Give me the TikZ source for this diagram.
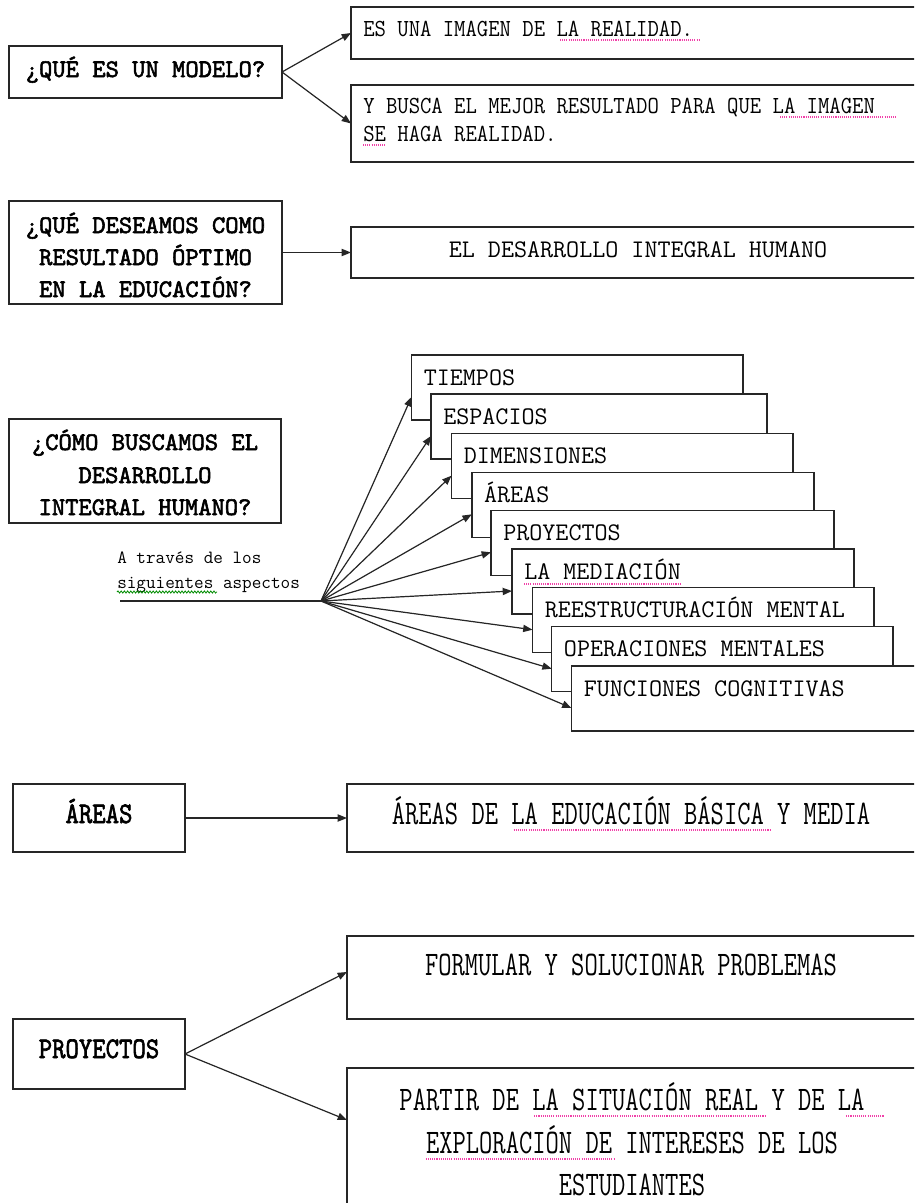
\documentclass[tikz,border=0pt]{standalone}
\usepackage{fontspec}
\usepackage{graphicx}
\usetikzlibrary{arrows.meta,calc,decorations.pathmorphing}
\newfontfamily\bmono{lmmono10-regular.otf}[FakeBold=2.2]
\newcommand\hs[2]{\scalebox{#1}[1]{#2}}
\newcommand\mybox[5]{\node[box,anchor=north west,minimum width={(#4-#2)*0.75pt},minimum height={(#5-#3)*0.75pt}] (#1) at (#2,#3) {};}
\tikzset{
  box/.style={draw=black!85, line width=1.1pt, fill=white, inner sep=0pt, outer sep=0pt},
  arr/.style={-{Triangle[length=7pt,width=5.4pt]}, line width=0.9pt, draw=black!85, fill=black!85},
  plain/.style={line width=0.9pt, draw=black!85},
  bt/.style={inner sep=0pt, anchor=base, font=\bmono\fontsize{19}{23}\selectfont},
  rt/.style={inner sep=0pt, anchor=base west, font=\ttfamily\fontsize{18.4}{22}\selectfont},
  mt/.style={inner sep=0pt, anchor=base west, font=\ttfamily\fontsize{19}{23}\selectfont},
  ct/.style={inner sep=0pt, anchor=base, font=\ttfamily\fontsize{19}{23}\selectfont},
  st/.style={inner sep=0pt, anchor=base west, font=\ttfamily\fontsize{14}{17}\selectfont},
  bigt/.style={inner sep=0pt, anchor=base, font=\ttfamily\fontsize{25.8}{30}\selectfont},
  bigb/.style={inner sep=0pt, anchor=base, font=\bmono\fontsize{22.5}{27}\selectfont},
  spell/.style={draw=magenta!75, line width=0.8pt, dash pattern=on 0.8pt off 0.8pt},
  gram/.style={draw=green!55!black, line width=0.6pt, decorate, decoration={snake, amplitude=0.8pt, segment length=2.4pt}},
}
\begin{document}
\begin{tikzpicture}[x=0.75pt,y=-0.75pt]
\useasboundingbox (0,0) rectangle (914,1203);
\fill[white] (0,0) rectangle (914,1203);
\clip (0,0) rectangle (914,1203);

% ---- section 1
\mybox{q1}{9}{46}{282}{98}
\node[bt] (q1t) at (145.5,77) {¿QUÉ ES UN MODELO?};
\mybox{a1}{351}{7}{925}{59}
\node[rt] (a1t) at (363,36) {\hs{0.9}{ES UNA IMAGEN DE LA REALIDAD.}};
\mybox{a2}{351}{85}{925}{162}
\node[rt] (a2t1) at (363,113) {\hs{0.9}{Y BUSCA EL MEJOR RESULTADO PARA QUE LA IMAGEN}};
\node[rt] (a2t2) at (363,141) {\hs{0.9}{SE HAGA REALIDAD.}};
\draw[arr] (q1.east) -- (a1.west);
\draw[arr] (q1.east) -- (a2.west);
\draw[spell] ($(a1t.base west)+(197,4)$) -- ++(139,0);
\draw[spell] ($(a2t1.base west)+(417,4)$) -- ++(117,0);
\draw[spell] ($(a2t2.base west)+(0,4)$) -- ++(23,0);

% ---- section 2
\mybox{q2}{9}{201}{282}{304}
\node[bt] (q2t1) at (145.5,233) {¿QUÉ DESEAMOS COMO};
\node[bt] (q2t2) at (145.5,265) {RESULTADO ÓPTIMO};
\node[bt] (q2t3) at (145.5,297) {EN LA EDUCACIÓN?};
\mybox{a3}{351}{227}{925}{278}
\node[ct] (a3t) at (638,257) {EL DESARROLLO INTEGRAL HUMANO};
\draw[arr] (q2.east) -- (a3.west);

% ---- section 3
\mybox{q3}{9}{419}{281}{523}
\node[bt] (q3t1) at (145,450) {¿CÓMO BUSCAMOS EL};
\node[bt] (q3t2) at (145,483) {DESARROLLO};
\node[bt] (q3t3) at (145,515) {INTEGRAL HUMANO?};
\node[st] (via1) at (117,563) {A través de los};
\node[st] (via2) at (117,588) {siguientes aspectos};
\draw[gram] ($(via2.base west)+(0,4)$) -- ++(100,0);
\coordinate (lstart) at (120,601);
\coordinate (hub) at (321,601);
\draw[plain] (lstart) -- (hub);

\foreach \n/\l/\t/\r/\txt in {
  m1/411.5/355/743/TIEMPOS,
  m2/431/394/767/ESPACIOS,
  m3/451.5/433.7/793/DIMENSIONES,
  m4/471.8/472.3/814/ÁREAS,
  m5/491/510.3/834/PROYECTOS,
  m6/512/549/854/LA MEDIACIÓN,
  m7/532.5/587.7/874/REESTRUCTURACIÓN MENTAL,
  m8/551.7/626.7/893/OPERACIONES MENTALES,
  m9/571.5/666/925/FUNCIONES COGNITIVAS}{
  \mybox{\n}{\l}{\t}{\r}{\t+65}
  \node[mt] (\n t) at (\l+12,\t+30) {\txt};
}
\draw[spell] ($(m6t.base west)+(0,5)$) -- ($(m6t.base east)+(0,5)$);
\foreach \n in {m1,m2,m3,m4,m5,m6,m7,m8,m9}{
  \draw[arr] (hub) -- ($(\n.north west)+(0,42)$);
}

% ---- section 4
\mybox{ar}{13}{784}{185}{852}
\node[bigb] (art) at (99,823) {\hs{0.85}{ÁREAS}};
\mybox{b1}{347}{784}{920}{852}
\node[bigt] (b1t) at (631,824) {\hs{0.75}{ÁREAS DE LA EDUCACIÓN BÁSICA Y MEDIA}};
\draw[spell] ($(b1t.base west)+(122,6)$) -- ++(257,0);
\draw[arr] (ar.east) -- (b1.west);

% ---- section 5
\mybox{pr}{13}{1019}{185}{1089}
\node[bigb] (prt) at (99,1058) {\hs{0.85}{PROYECTOS}};
\mybox{b2}{347}{936}{920}{1019}
\node[bigt] (b2t) at (631,975) {\hs{0.75}{FORMULAR Y SOLUCIONAR PROBLEMAS}};
\mybox{b3}{347}{1068}{920}{1260}
\node[bigt] (b3t1) at (632,1110) {\hs{0.75}{PARTIR DE LA SITUACIÓN REAL Y DE LA}};
\node[bigt] (b3t2) at (632,1153) {\hs{0.75}{EXPLORACIÓN DE INTERESES DE LOS}};
\node[bigt] (b3t3) at (632,1195) {\hs{0.75}{ESTUDIANTES}};
\draw[spell] ($(b3t1.base west)+(135,6)$) -- ++(231,0);
\draw[spell] ($(b3t1.base west)+(447,6)$) -- ++(38,0);
\draw[spell] ($(b3t2.base west)+(0,6)$) -- ++(189,0);
\draw[arr] (pr.east) -- ($(b2.north west)+(0,36)$);
\draw[arr] (pr.east) -- ($(b3.north west)+(0,52)$);
\end{tikzpicture}
\end{document}
